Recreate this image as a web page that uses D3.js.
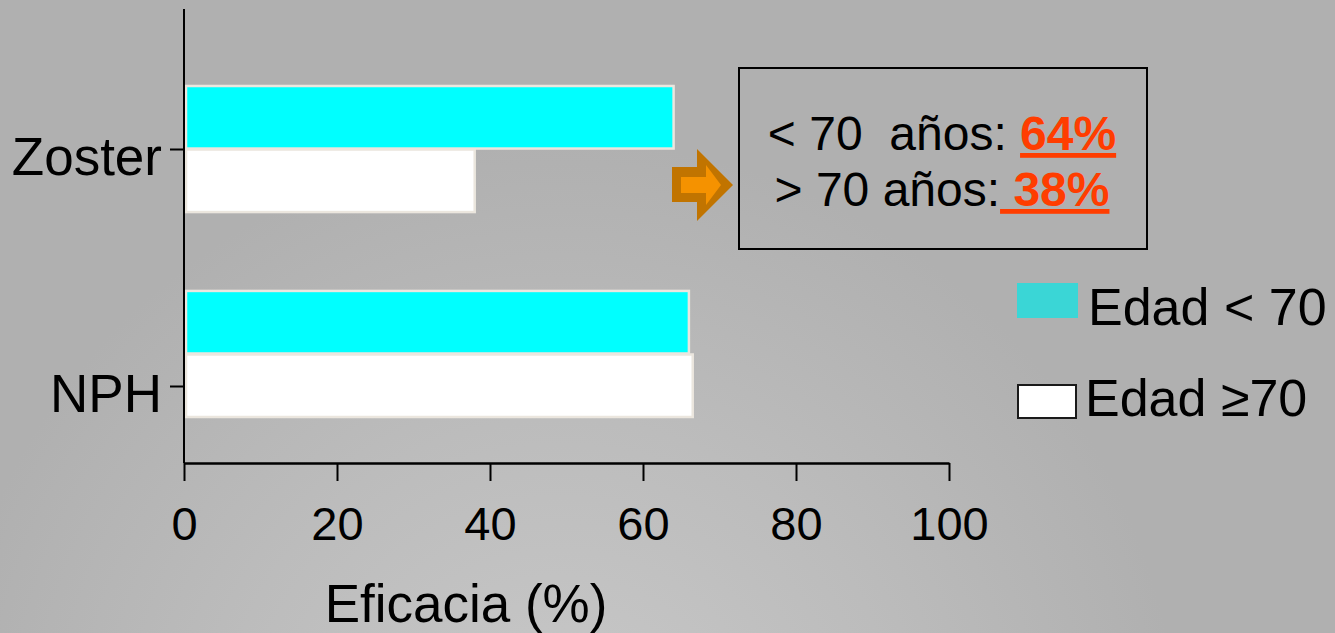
<!DOCTYPE html>
<html>
<head>
<meta charset="utf-8">
<script src="https://cdn.jsdelivr.net/npm/d3@7"></script>
<style>
  html, body { margin: 0; padding: 0; background: #b0b0b0; }
  svg { display: block; font-family: "Liberation Sans", Arial, sans-serif; }
</style>
</head>
<body>
<svg id="chart" width="1335" height="633"></svg>
<script>
// Vaccine efficacy by outcome and age group
const categories = ["Zoster", "NPH"];
const seriesNames = ["Edad < 70", "Edad \u226570"];
const under70 = [64, 66];
const over70 = [38, 66.5];
const xTicks = [0, 20, 40, 60, 80, 100];
const summaryLabels = ["< 70  a\u00f1os: ", "> 70 a\u00f1os:"];
const summaryValues = ["64%", " 38%"];

const W = 1335, H = 633;
const svg = d3.select("#chart");

// background: flat grey with a soft lighter glow toward the bottom
const defs = svg.append("defs");
const grad = defs.append("radialGradient")
  .attr("id", "bg").attr("gradientUnits", "userSpaceOnUse")
  .attr("cx", 560).attr("cy", 760).attr("r", 620);
grad.append("stop").attr("offset", "0").attr("stop-color", "#c9c9c9");
grad.append("stop").attr("offset", "0.55").attr("stop-color", "#bcbcbc");
grad.append("stop").attr("offset", "1").attr("stop-color", "#b0b0b0");
svg.append("rect").attr("width", W).attr("height", H).attr("fill", "url(#bg)");

const plotTop = 9, plotBottom = 463;
const x = d3.scaleLinear().domain([0, 100]).range([184, 949]);

const y = d3.scaleBand().domain(categories).range([85, 417]).paddingInner(0.38).paddingOuter(0);
const ySub = d3.scaleBand().domain(seriesNames).range([0, y.bandwidth()]).padding(0);
// tick label positions along the category axis
const yLabel = d3.scalePoint().domain(categories).range([149, 386]);

const rows = categories.map((c, i) => ({ cat: c, values: [under70[i], over70[i]] }));
const barFill = ["#00ffff", "#ffffff"];
const legendFill = ["#3ad6d6", "#ffffff"];

// bars
const groups = svg.append("g").selectAll("g").data(rows).join("g")
  .attr("transform", d => `translate(0,${y(d.cat)})`);
groups.selectAll("rect")
  .data(d => d.values.map((v, j) => ({ v, s: seriesNames[j], j })))
  .join("rect")
  .attr("x", x(0) + 2)
  .attr("y", d => ySub(d.s) + 1)
  .attr("width", d => x(d.v) - x(0) - 2)
  .attr("height", ySub.bandwidth() - 1)
  .attr("fill", d => barFill[d.j])
  .attr("stroke", "#ebe6de")
  .attr("stroke-width", 2.5);

// x axis
const xAxis = svg.append("g").attr("transform", `translate(0,${plotBottom})`)
  .call(d3.axisBottom(x).tickValues(xTicks).tickSize(18).tickSizeOuter(0).tickPadding(26));
xAxis.select(".domain").attr("stroke", "#000").attr("stroke-width", 2.7);
xAxis.selectAll(".tick line").attr("stroke", "#000").attr("stroke-width", 2);
xAxis.selectAll(".tick text").attr("fill", "#000").attr("font-size", 47)
  .attr("font-family", "'Liberation Sans', Arial, sans-serif");

// y axis line
svg.append("line")
  .attr("x1", x(0)).attr("x2", x(0))
  .attr("y1", plotTop).attr("y2", plotBottom)
  .attr("stroke", "#000").attr("stroke-width", 2);

const yAxis = svg.append("g").attr("transform", `translate(${x(0)},0)`)
  .call(d3.axisLeft(yLabel).tickSize(14).tickPadding(8));
yAxis.select(".domain").remove();
yAxis.selectAll(".tick line").attr("stroke", "#000").attr("stroke-width", 2);
yAxis.selectAll(".tick text").attr("fill", "#000").attr("font-size", 53)
  .attr("dy", "0.49em")
  .attr("font-family", "'Liberation Sans', Arial, sans-serif");

// axis title
svg.append("text")
  .attr("x", 466).attr("y", 622)
  .attr("text-anchor", "middle")
  .attr("font-size", 53).attr("fill", "#000")
  .text("Eficacia (%)");

// summary box with arrow
const box = { x: 739, y: 68, w: 408, h: 181 };
svg.append("rect")
  .attr("x", box.x).attr("y", box.y).attr("width", box.w).attr("height", box.h)
  .attr("fill", "none").attr("stroke", "#000").attr("stroke-width", 2);

const lineY = [150, 206];
summaryLabels.forEach((lab, i) => {
  const t = svg.append("text")
    .attr("x", 942).attr("y", lineY[i])
    .attr("text-anchor", "middle")
    .attr("font-size", 48).attr("fill", "#000")
    .style("white-space", "pre");
  t.append("tspan").text(lab);
  t.append("tspan")
    .attr("fill", "#ff3d00").attr("font-weight", "bold")
    .style("text-decoration", "underline")
    .text(summaryValues[i]);
});

// block arrow pointing at the box
const arrowOuter = [[672,167],[697,167],[697,149],[733,185],[697,221],[697,202],[672,202]];
const arrowInner = [[681,177],[706,177],[706,165],[721,185],[706,205],[706,193],[681,193]];
svg.append("path").attr("d", "M" + arrowOuter.join("L") + "Z").attr("fill", "#c17400");
svg.append("path").attr("d", "M" + arrowInner.join("L") + "Z").attr("fill", "#f59200");

// legend
const legendY = [283, 385];
const legendTextY = [325, 416];
const legend = svg.append("g");
seriesNames.forEach((name, i) => {
  legend.append("rect")
    .attr("x", i === 0 ? 1017 : 1018).attr("y", legendY[i])
    .attr("width", i === 0 ? 61 : 58).attr("height", i === 0 ? 35 : 33)
    .attr("fill", legendFill[i])
    .attr("stroke", i === 0 ? "none" : "#1a1a1a")
    .attr("stroke-width", 2);
  legend.append("text")
    .attr("x", i === 0 ? 1088 : 1085).attr("y", legendTextY[i])
    .attr("font-size", 52).attr("fill", "#000")
    .style("white-space", "pre")
    .text(name);
});
</script>
</body>
</html>
